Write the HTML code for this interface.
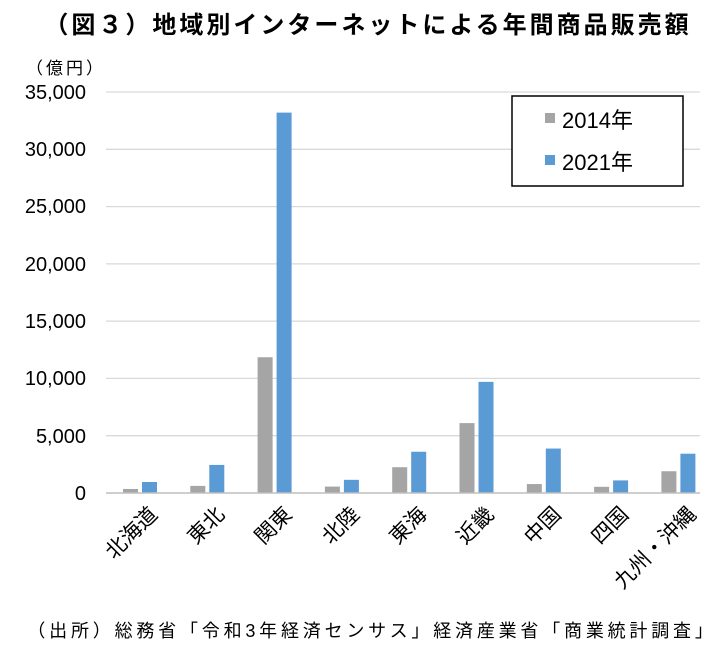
<!DOCTYPE html>
<html><head><meta charset="utf-8"><style>
html,body{margin:0;padding:0;background:#fff;}
svg{display:block;font-family:"Liberation Sans","Noto Sans CJK JP",sans-serif;}
</style></head><body>
<svg width="728" height="652" viewBox="0 0 728 652" xmlns="http://www.w3.org/2000/svg">
<text x="368" y="33" text-anchor="middle" font-size="24" font-weight="bold" letter-spacing="3" fill="#000">（図３）地域別インターネットによる年間商品販売額</text>
<text x="26" y="74" font-size="17" letter-spacing="3" fill="#000">（億円）</text>
<g stroke="#d9d9d9" stroke-width="1.3">
<line x1="106" x2="700" y1="92" y2="92"/>
<line x1="106" x2="700" y1="149.3" y2="149.3"/>
<line x1="106" x2="700" y1="206.6" y2="206.6"/>
<line x1="106" x2="700" y1="263.9" y2="263.9"/>
<line x1="106" x2="700" y1="321.1" y2="321.1"/>
<line x1="106" x2="700" y1="378.4" y2="378.4"/>
<line x1="106" x2="700" y1="435.7" y2="435.7"/>
</g>
<g font-size="20" fill="#000" text-anchor="end">
<text x="86" y="99">35,000</text>
<text x="86" y="156">30,000</text>
<text x="86" y="213">25,000</text>
<text x="86" y="271">20,000</text>
<text x="86" y="328">15,000</text>
<text x="86" y="385">10,000</text>
<text x="86" y="443">5,000</text>
<text x="86" y="500">0</text>
</g>
<g id="bars"></g>
<line x1="106" x2="700" y1="493" y2="493" stroke="#bfbfbf" stroke-width="1.5"/>
<rect x="512" y="96" width="171" height="90" fill="#fff" stroke="#000" stroke-width="1.5"/>
<rect x="545" y="113" width="10" height="10" fill="#a5a5a5"/>
<text x="562" y="128" font-size="22">2014年</text>
<rect x="545" y="155" width="10" height="10" fill="#5b9bd5"/>
<text x="562" y="170" font-size="22">2021年</text>
<text x="372" y="637" text-anchor="middle" font-size="18" letter-spacing="3.8">（出所）総務省「令和3年経済センサス」経済産業省「商業統計調査」</text>
<g id="labels" font-size="21" text-anchor="end"></g>
<script>
var vals=[[350,960],[620,2450],[11850,33200],[560,1150],[2250,3600],[6100,9700],[780,3880],[540,1100],[1900,3430]];
var names=["北海道","東北","関東","北陸","東海","近畿","中国","四国","九州・沖縄"];
var ns="http://www.w3.org/2000/svg",b=document.getElementById("bars"),l=document.getElementById("labels");
var k=57.286/5000;
vals.forEach(function(v,i){
 var x=123+i*67.3;
 [["#a5a5a5",0],["#5b9bd5",19]].forEach(function(c,j){
  var r=document.createElementNS(ns,"rect");var h=v[j]*k;
  r.setAttribute("x",x+c[1]);r.setAttribute("y",493-h);r.setAttribute("width",15);r.setAttribute("height",h);r.setAttribute("fill",c[0]);b.appendChild(r);});
 var t=document.createElementNS(ns,"text");var cx=x+25,cy=505;
 t.setAttribute("x",cx);t.setAttribute("y",cy+15);t.setAttribute("transform","rotate(-45 "+cx+" "+cy+")");
 t.textContent=names[i];l.appendChild(t);
});
</script>
</svg>
</body></html>
